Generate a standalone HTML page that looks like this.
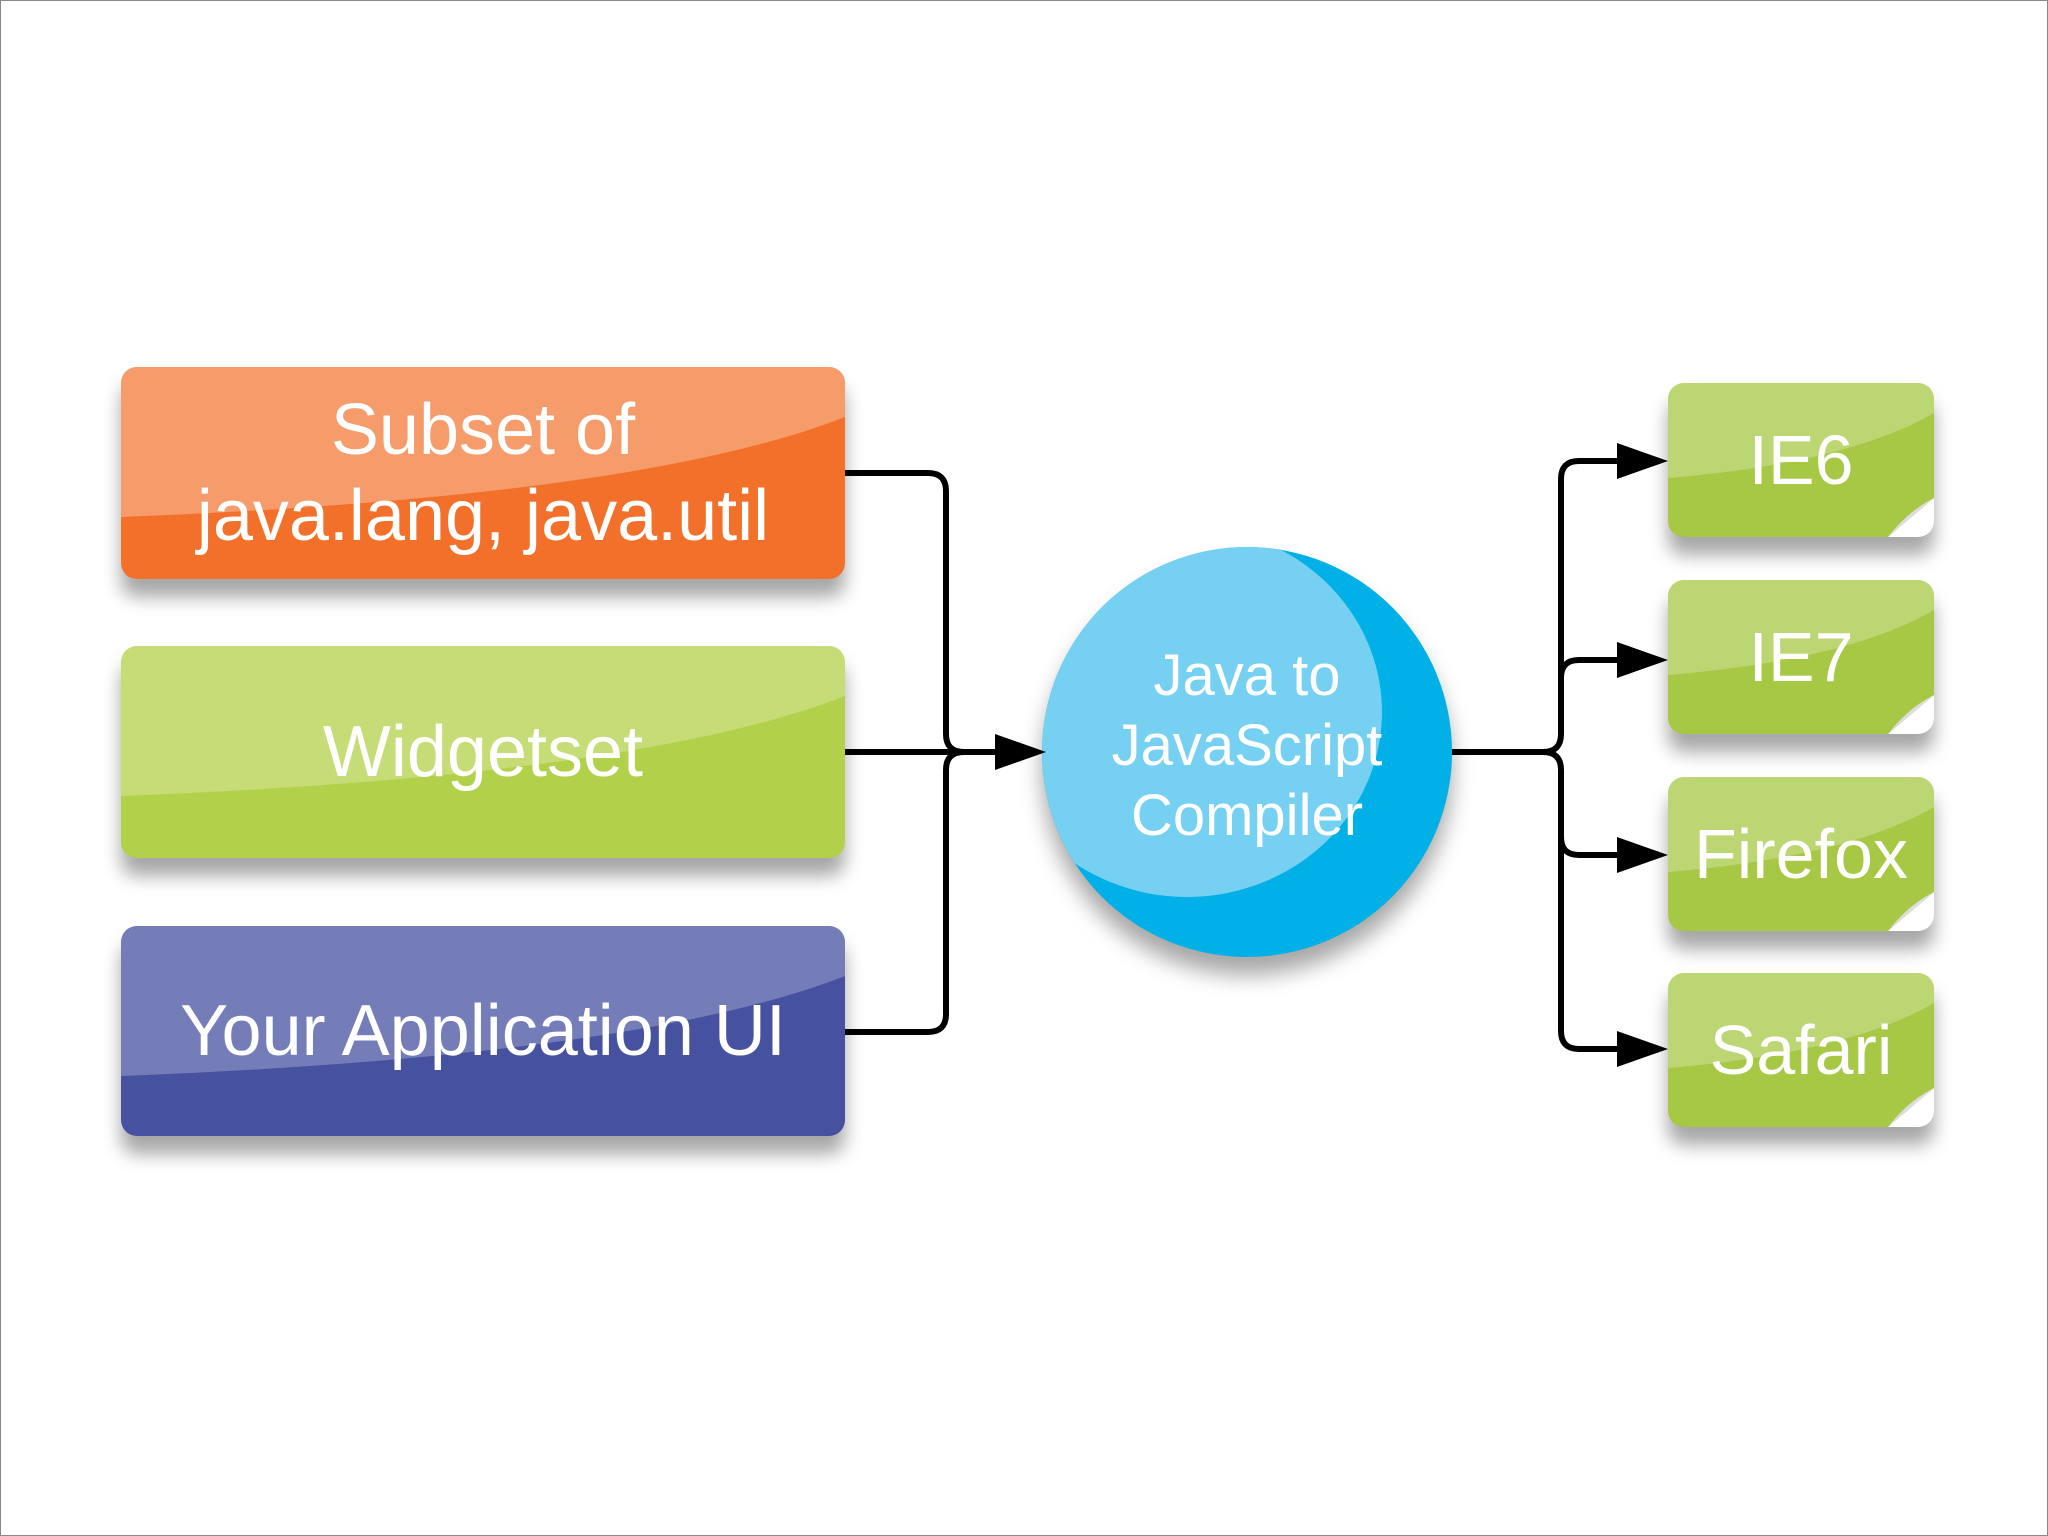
<!DOCTYPE html>
<html><head><meta charset="utf-8"><style>
html,body{margin:0;padding:0;background:#fff}
body{width:2048px;height:1536px;position:relative;overflow:hidden;font-family:"Liberation Sans",sans-serif}
.frame{position:absolute;left:0;top:0;width:2046px;height:1534px;border:1px solid #888}
.box{position:absolute;border-radius:16px;color:#fff;text-align:center;box-shadow:0 18px 18px rgba(0,0,0,.35);overflow:hidden;display:flex;align-items:center;justify-content:center;font-size:72px;line-height:86px}
.box span{position:relative}
.gl{position:absolute;left:0;top:0;width:100%;height:100%}
</style></head><body>
<div class="frame"></div>
<div class="box" style="left:121px;top:367px;width:724px;height:212px;background:#f3702a">
<svg class="gl" viewBox="0 0 724 212" preserveAspectRatio="none"><path d="M0 0H724V50Q520 130 0 150Z" fill="#fff" opacity=".3"/></svg>
<span>Subset of<br>java.lang, java.util</span></div>
<div class="box" style="left:121px;top:646px;width:724px;height:212px;background:#b2d14a">
<svg class="gl" viewBox="0 0 724 212" preserveAspectRatio="none"><path d="M0 0H724V50Q520 130 0 150Z" fill="#fff" opacity=".25"/></svg>
<span>Widgetset</span></div>
<div class="box" style="left:121px;top:926px;width:724px;height:210px;background:#46529f">
<svg class="gl" viewBox="0 0 724 210" preserveAspectRatio="none"><path d="M0 0H724V50Q520 130 0 150Z" fill="#fff" opacity=".25"/></svg>
<span>Your Application UI</span></div>

<div style="position:absolute;left:1042px;top:547px;width:410px;height:410px;border-radius:50%;background:#00b0e6;box-shadow:0 18px 22px rgba(0,0,0,.35);overflow:hidden">
<div style="position:absolute;left:-50px;top:-20px;width:390px;height:370px;border-radius:50%;background:#76d0f2"></div>
<div style="position:absolute;left:0;top:94px;width:410px;text-align:center;color:#fff;font-size:58px;line-height:70px">Java to<br>JavaScript<br>Compiler</div>
</div>

<div class="box" style="left:1668px;top:383px;width:266px;height:154px;background:#a6c845;font-size:70px">
<svg class="gl" viewBox="0 0 266 154" preserveAspectRatio="none"><path d="M0 0H266V30Q180 80 0 95Z" fill="#fff" opacity=".25"/><path d="M266 115L220 154H266Z" fill="#fff"/><path d="M266 115L220 154Q240 128 266 115Z" fill="#ddd"/></svg><span>IE6</span></div>
<div class="box" style="left:1668px;top:580px;width:266px;height:154px;background:#a6c845;font-size:70px">
<svg class="gl" viewBox="0 0 266 154" preserveAspectRatio="none"><path d="M0 0H266V30Q180 80 0 95Z" fill="#fff" opacity=".25"/><path d="M266 115L220 154H266Z" fill="#fff"/><path d="M266 115L220 154Q240 128 266 115Z" fill="#ddd"/></svg><span>IE7</span></div>
<div class="box" style="left:1668px;top:777px;width:266px;height:154px;background:#a6c845;font-size:70px">
<svg class="gl" viewBox="0 0 266 154" preserveAspectRatio="none"><path d="M0 0H266V30Q180 80 0 95Z" fill="#fff" opacity=".25"/><path d="M266 115L220 154H266Z" fill="#fff"/><path d="M266 115L220 154Q240 128 266 115Z" fill="#ddd"/></svg><span>Firefox</span></div>
<div class="box" style="left:1668px;top:973px;width:266px;height:154px;background:#a6c845;font-size:70px">
<svg class="gl" viewBox="0 0 266 154" preserveAspectRatio="none"><path d="M0 0H266V30Q180 80 0 95Z" fill="#fff" opacity=".25"/><path d="M266 115L220 154H266Z" fill="#fff"/><path d="M266 115L220 154Q240 128 266 115Z" fill="#ddd"/></svg><span>Safari</span></div>

<svg style="position:absolute;left:0;top:0" width="2048" height="1536">
<g fill="none" stroke="#000" stroke-width="6" stroke-linejoin="round">
<path d="M845 473H928Q946 473 946 491V734Q946 752 964 752H995"/>
<path d="M845 1032H928Q946 1032 946 1014V770Q946 752 964 752"/>
<path d="M845 752H995"/>
<path d="M1452 752H1543Q1561 752 1561 734V479Q1561 461 1579 461H1620"/>
<path d="M1561 734V678Q1561 660 1579 660H1620"/>
<path d="M1543 752Q1561 752 1561 770V837Q1561 855 1579 855H1620"/>
<path d="M1561 837V1031Q1561 1049 1579 1049H1620"/>
</g>
<g fill="#000">
<path d="M995 734L1046 752L995 770Z"/>
<path d="M1617 443L1668 461L1617 479Z"/>
<path d="M1617 642L1668 660L1617 678Z"/>
<path d="M1617 837L1668 855L1617 873Z"/>
<path d="M1617 1031L1668 1049L1617 1067Z"/>
</g>
</svg>
</body></html>
